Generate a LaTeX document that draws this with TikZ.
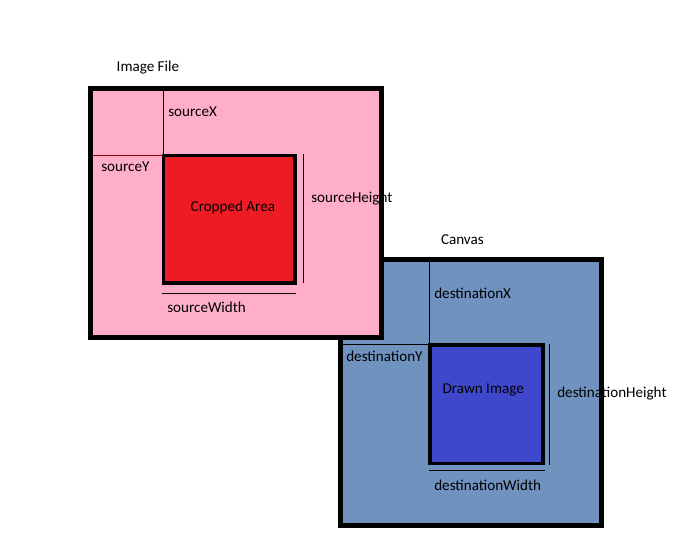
\documentclass[tikz,border=0pt]{standalone}
\usepackage{fontspec}
\setmainfont{Carlito}
\definecolor{pinkbg}{RGB}{255,174,201}
\definecolor{cropred}{RGB}{237,28,36}
\definecolor{canvasblue}{RGB}{112,146,190}
\definecolor{drawnblue}{RGB}{63,72,204}
\definecolor{darkred}{RGB}{136,0,21}
\tikzset{
  frame/.style={draw=black, line width=5pt, outer sep=0pt, inner sep=0pt, rectangle},
  inner/.style={draw=black, line width=3.5pt, outer sep=0pt, inner sep=0pt, rectangle},
  guide/.style={draw=black, line width=1pt},
  lbl/.style={anchor=base west, inner sep=0pt, outer sep=0pt, font=\fontsize{15.1}{18}\selectfont, text=black}
}
\begin{document}
\begin{tikzpicture}[x=1pt, y=-1pt]
\useasboundingbox (0,0) rectangle (677,558);
% Canvas
\node[frame, fill=canvasblue, minimum width=260.7pt, minimum height=266pt] (canvas) at (470.65,392.7) {};
\node[inner, fill=drawnblue, minimum width=113pt, minimum height=118.7pt] (drawn) at (486.5,404.35) {};
\coordinate (dxtop) at (429.3,262);
\coordinate (dxbot) at (429.3,345);
\coordinate (dyl) at (342,344.3);
\coordinate (dyr) at (430,344.3);
\coordinate (dht) at (549.3,344);
\coordinate (dhb) at (549.3,464.7);
\coordinate (dwl) at (428.7,470.3);
\coordinate (dwr) at (544.7,470.3);
\draw[guide] (dxtop) -- (dxbot);
\draw[guide] (dyl) -- (dyr);
\draw[guide] (dht) -- (dhb);
\draw[guide] (dwl) -- (dwr);
\node[lbl] (canvaslbl) at (441,244.5) {Canvas};
\node[lbl] (dxl) at (434.3,298) {destinationX};
\node[lbl] (dyl2) at (346.3,361) {destinationY};
\node[lbl] (drawnlbl) at (442.7,393) {Drawn Image};
\node[lbl] (dhl) at (557.3,397.6) {destinationHeight};
\node[lbl] (dwl2) at (434.3,490) {destinationWidth};
% Image file
\node[frame, fill=pinkbg, minimum width=290.5pt, minimum height=248.5pt] (img) at (235.75,212.75) {};
\node[inner, fill=cropred, minimum width=131.3pt, minimum height=127.3pt] (crop) at (229.35,219.35) {};
\coordinate (sxtop) at (163.3,91);
\coordinate (sxbot) at (163.3,155);
\coordinate (syl) at (93,155.3);
\coordinate (syr) at (163,155.3);
\coordinate (sht) at (303.3,154);
\coordinate (shb) at (303.3,283.3);
\coordinate (swl) at (162,293.3);
\coordinate (swr) at (296,293.3);
\draw[guide] (sxtop) -- (sxbot);
\draw[guide, draw=darkred] (syl) -- (syr);
\draw[guide] (sht) -- (shb);
\draw[guide] (swl) -- (swr);
\node[lbl] (imglbl) at (116.7,71) {Image File};
\node[lbl] (sxl) at (168.3,116.3) {sourceX};
\node[lbl] (syl2) at (101.3,171.8) {sourceY};
\node[lbl] (croplbl) at (190.7,211) {Cropped Area};
\node[lbl] (shl) at (311.3,202) {sourceHeight};
\node[lbl] (swl2) at (167.3,312.6) {sourceWidth};
\end{tikzpicture}
\end{document}
